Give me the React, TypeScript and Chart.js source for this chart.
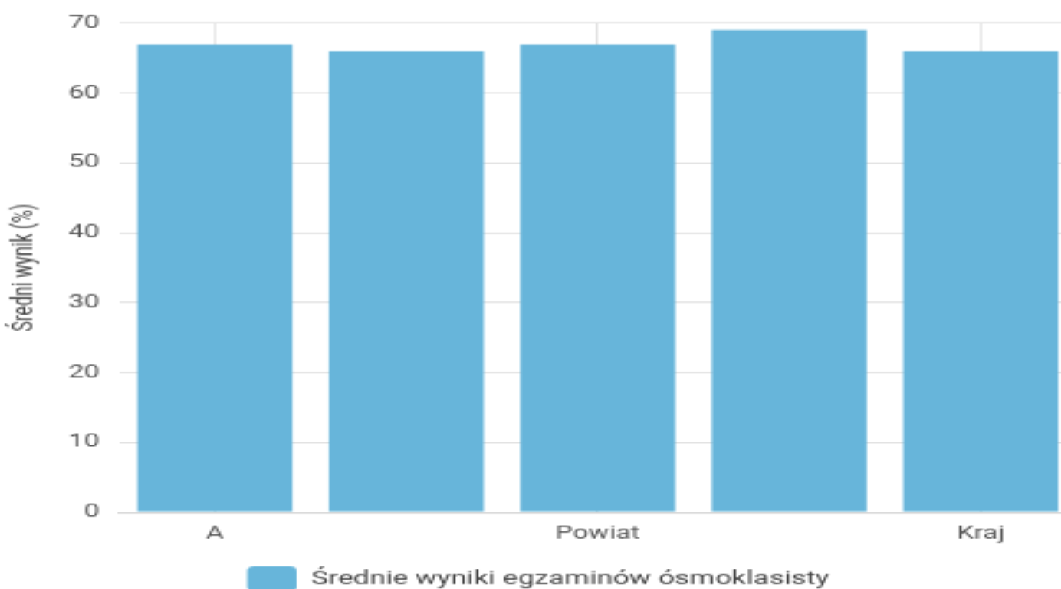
import React, { useEffect, useRef } from "react";
import { Chart, registerables } from "chart.js";

Chart.register(...registerables);

const categories: string[] = ["A", "Gmina", "Powiat", "Województwo", "Kraj"];
const seriesLabel = "Średnie wyniki egzaminów ósmoklasisty";
const scores: number[] = [67, 66, 67, 69, 66];
const yTicks: number[] = [0, 10, 20, 30, 40, 50, 60, 70];
const yTitle = "Średni wynik (%)";

const SX = 2.3;
const SY = 1.46;
const W0 = 468;
const H0 = 414.5;

export default function App() {
  const ref = useRef<HTMLCanvasElement | null>(null);

  useEffect(() => {
    if (!ref.current) return;
    const font = { family: "Roboto", size: 12 };
    const chart = new Chart(ref.current, {
      type: "bar",
      data: {
        labels: categories,
        datasets: [
          {
            label: seriesLabel,
            data: scores,
            backgroundColor: "#67b5da",
            borderWidth: 0,
            barPercentage: 0.9,
            categoryPercentage: 0.9,
          },
        ],
      },
      options: {
        animation: false,
        responsive: false,
        devicePixelRatio: 1,
        layout: { padding: { top: 6.8, left: 0, right: 0, bottom: 0 } },
        plugins: {
          legend: {
            position: "bottom",
            labels: {
              font: { family: "Roboto", size: 12.6 },
              color: "#444",
              boxWidth: 21.5,
              boxHeight: 17,
              padding: 6.5,
              useBorderRadius: true,
              borderRadius: 3,
            },
          },
          tooltip: { enabled: false },
        },
        scales: {
          x: {
            grid: { offset: false, color: "#e3e3e3", drawTicks: false },
            border: { color: "#d6d6d6" },
            ticks: {
              font,
              color: "#555",
              padding: 8,
              maxRotation: 0,
              autoSkip: true,
              maxTicksLimit: 3,
            },
          },
          y: {
            min: 0,
            max: 70,
            afterBuildTicks: (axis: any) => {
              axis.ticks = yTicks.map((v) => ({ value: v }));
            },
            grid: { color: "#e3e3e3", drawTicks: false },
            border: { display: false },
            ticks: { font, color: "#555", padding: 8.6 },
            title: {
              display: true,
              text: yTitle,
              font,
              color: "#444",
              padding: { top: 4, bottom: 2.7 },
            },
          },
        },
      },
    });
    return () => chart.destroy();
  }, []);

  return (
    <div
      style={{
        position: "fixed",
        left: 0,
        top: 0,
        width: W0,
        height: H0,
        transform: `scale(${SX}, ${SY})`,
        transformOrigin: "0 0",
        background: "#fff",
      }}
    >
      <canvas ref={ref} width={W0} height={H0} style={{ width: W0, height: H0, display: "block" }} />
    </div>
  );
}
